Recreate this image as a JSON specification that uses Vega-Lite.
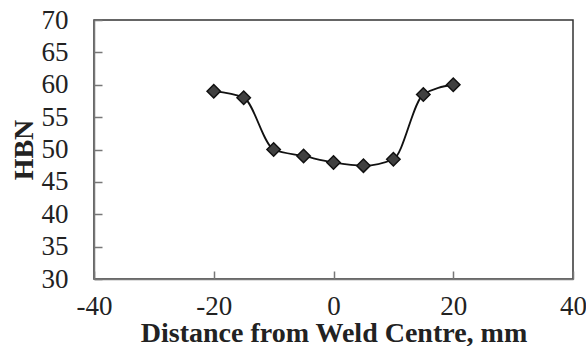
{
  "$schema": "https://vega.github.io/schema/vega-lite/v6.json",
  "autosize": "none",
  "width": 479,
  "height": 259,
  "padding": {"left": 94, "top": 20, "right": 13, "bottom": 67},
  "background": "white",
  "config": {
    "view": {"stroke": "#333333", "strokeWidth": 1.5},
    "font": "Liberation Serif"
  },
  "data": {
    "values": [
      {"d": -20, "hbn": 59},
      {"d": -15, "hbn": 58},
      {"d": -10, "hbn": 50},
      {"d": -5, "hbn": 49},
      {"d": 0, "hbn": 48},
      {"d": 5, "hbn": 47.5},
      {"d": 10, "hbn": 48.5},
      {"d": 15, "hbn": 58.5},
      {"d": 20, "hbn": 60}
    ]
  },
  "encoding": {
    "x": {
      "field": "d", "type": "quantitative",
      "scale": {"domain": [-40, 40], "nice": false, "zero": false},
      "axis": {
        "title": "Distance from Weld Centre, mm",
        "values": [-40, -20, 0, 20, 40],
        "labelExpr": "'' + datum.value",
        "grid": false,
        "domainColor": "#777777", "domainWidth": 1.5,
        "tickColor": "#777777", "tickSize": -8, "tickWidth": 1.5,
        "labelFont": "Liberation Serif", "labelFontSize": 27, "labelColor": "#222222",
        "labelPadding": 22, "labelFlush": false,
        "titleFont": "Liberation Serif", "titleFontSize": 28, "titleFontWeight": "bold",
        "titleColor": "#222222", "titlePadding": 0
      }
    },
    "y": {
      "field": "hbn", "type": "quantitative",
      "scale": {"domain": [30, 70], "nice": false, "zero": false},
      "axis": {
        "title": "HBN",
        "values": [30, 35, 40, 45, 50, 55, 60, 65, 70],
        "grid": false,
        "domainColor": "#777777", "domainWidth": 1.5,
        "tickColor": "#777777", "tickSize": -8, "tickWidth": 1.5,
        "labelFont": "Liberation Serif", "labelFontSize": 27, "labelColor": "#222222",
        "labelPadding": 34, "labelFlush": false,
        "titleFont": "Liberation Serif", "titleFontSize": 28, "titleFontWeight": "bold",
        "titleColor": "#222222", "titlePadding": 3
      }
    }
  },
  "layer": [
    {"mark": {"type": "line", "interpolate": "monotone", "color": "#111111", "strokeWidth": 1.8}},
    {"mark": {"type": "point", "shape": "diamond", "filled": true, "size": 180, "fill": "#404040", "stroke": "#111111", "strokeWidth": 1.5, "opacity": 1}}
  ]
}
